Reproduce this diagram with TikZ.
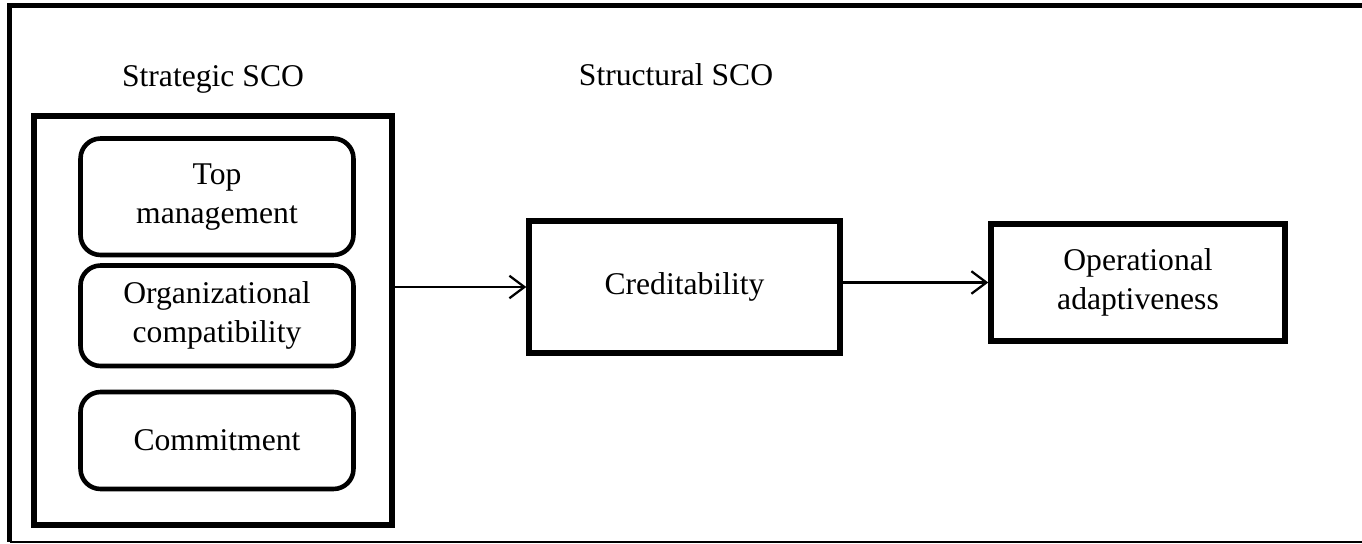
\documentclass[tikz,border=0pt]{standalone}
\usepackage{fontspec}
\setmainfont{Liberation Serif}
\usepackage{tikz}
\usetikzlibrary{arrows.meta}

\begin{document}
\begin{tikzpicture}[x=0.02cm, y=-0.02cm,
  every node/.style={font=\fontsize{18}{22}\selectfont, align=center},
  groupbox/.style={draw, line width=3.1pt, inner sep=0pt},
  itembox/.style={draw, line width=2.6pt, rounded corners=0.4cm, minimum width=5.46cm, inner sep=0pt},
  stagebox/.style={draw, line width=3.1pt, inner sep=0pt},
  link/.style={line width=1.3pt, -{Straight Barb[length=0.3cm, width=0.45cm, line width=1.3pt]}}]
  \useasboundingbox (0, 0) rectangle (1362, 544);

  % Outer frame
  \draw [line width=3pt] (1362, 5.5) -- (9.5, 5.5) -- (9.5, 542);
  \draw [line width=1.4pt] (9.5, 542) -- (1362, 542);

  % Headings
  \node [anchor=base] (strathead) at (213, 87) {Strategic SCO};
  \node [anchor=base] (structhead) at (676, 86) {Structural SCO};

  % Strategic SCO group
  \node [groupbox, minimum width=7.16cm, minimum height=8.18cm] (strat) at (213, 320.5) {};
  \node [itembox, minimum height=2.33cm] (top) at (217, 196.75) {Top\\management};
  \node [itembox, minimum height=2.01cm] (org) at (217, 315.75) {Organizational\\compatibility};
  \node [itembox, minimum height=1.94cm] (commit) at (217, 440.5) {Commitment};

  % Stages
  \node [stagebox, minimum width=6.22cm, minimum height=2.64cm] (cred) at (684.5, 287) {Creditability};
  \node [stagebox, minimum width=5.88cm, minimum height=2.34cm] (oper) at (1138, 282.5) {Operational\\adaptiveness};

  % Arrows
  \draw [link] (strat.east |- cred.west) -- (cred.west);
  \draw [link] (cred.east |- oper.west) -- (oper.west);
\end{tikzpicture}
\end{document}
